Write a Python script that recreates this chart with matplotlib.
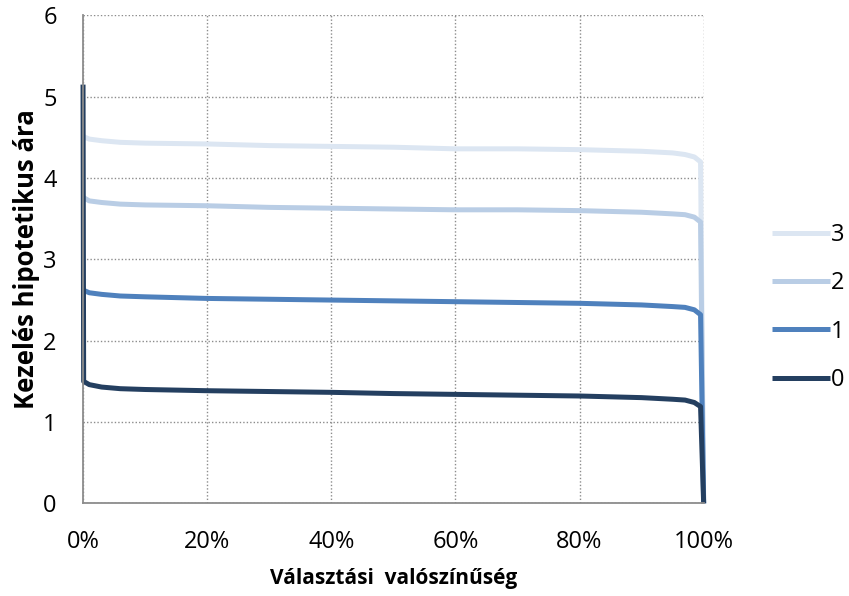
import numpy as np
import matplotlib
matplotlib.use('Agg')
import matplotlib.pyplot as plt
from matplotlib.ticker import PercentFormatter

plt.rcParams.update({
    'font.family': ['Open Sans', 'DejaVu Sans'],
    'font.size': 17,
})

# choice probability (percent) and hypothetical treatment price per series
prob = [0, 0.1, 1, 3, 6, 10, 20, 30, 40, 50, 60, 70, 80, 90, 95, 97, 98.5, 99.5, 100]
price_3 = [4.52, 4.51, 4.48, 4.46, 4.44, 4.43, 4.42, 4.40, 4.39, 4.38, 4.36, 4.36, 4.35, 4.33, 4.31, 4.29, 4.26, 4.20, 0]
price_2 = [3.77, 3.76, 3.72, 3.70, 3.68, 3.67, 3.66, 3.64, 3.63, 3.62, 3.61, 3.61, 3.60, 3.58, 3.56, 3.55, 3.52, 3.46, 0]
price_1 = [2.63, 2.62, 2.59, 2.57, 2.55, 2.54, 2.52, 2.51, 2.50, 2.49, 2.48, 2.47, 2.46, 2.44, 2.42, 2.41, 2.38, 2.32, 0]
price_0 = [5.15, 1.50, 1.46, 1.43, 1.41, 1.40, 1.385, 1.375, 1.365, 1.35, 1.34, 1.33, 1.32, 1.30, 1.28, 1.27, 1.24, 1.19, 0]

series = [('3', price_3, '#DCE6F2'),
          ('2', price_2, '#B9CDE5'),
          ('1', price_1, '#4F81BD'),
          ('0', price_0, '#243F60')]

fig = plt.figure(figsize=(8.49, 5.96), dpi=100)
ax = fig.add_axes([0.0978, 0.1555, 0.731, 0.8185])

x = np.array(prob) / 100
for name, vals, col in series:
    ax.plot(x, vals, color=col, lw=3.6, label=name, clip_on=False,
            solid_joinstyle='round', solid_capstyle='butt')

ax.set_xlim(0, 1)
ax.set_ylim(0, 6)
ax.set_xticks(np.arange(0, 1.01, 0.2))
ax.set_yticks(range(7))
ax.xaxis.set_major_formatter(PercentFormatter(1.0, decimals=0))
ax.tick_params(length=0, labelsize=17, colors='black')
ax.tick_params(axis='x', pad=19)
ax.tick_params(axis='y', pad=19)

ax.grid(True, color='#8c8c8c', linestyle=(0, (1, 1.5)), linewidth=1.0)
ax.set_axisbelow(True)
for side in ['top', 'right']:
    ax.spines[side].set_visible(False)
for side in ['left', 'bottom']:
    ax.spines[side].set_color('#8c8c8c')
    ax.spines[side].set_linewidth(1.3)

ax.set_xlabel('Választási  valószínűség', fontweight='bold', fontsize=15, labelpad=10)
ax.set_ylabel('Kezelés hipotetikus ára', fontweight='bold', fontsize=18.5, labelpad=2)

fig.legend(loc='center left', bbox_to_anchor=(0.909, 0.484), frameon=False,
           handlelength=2.45, handletextpad=0.05, labelspacing=1.03,
           borderpad=0, borderaxespad=0, fontsize=17)

fig.savefig('out.png', dpi=100)
